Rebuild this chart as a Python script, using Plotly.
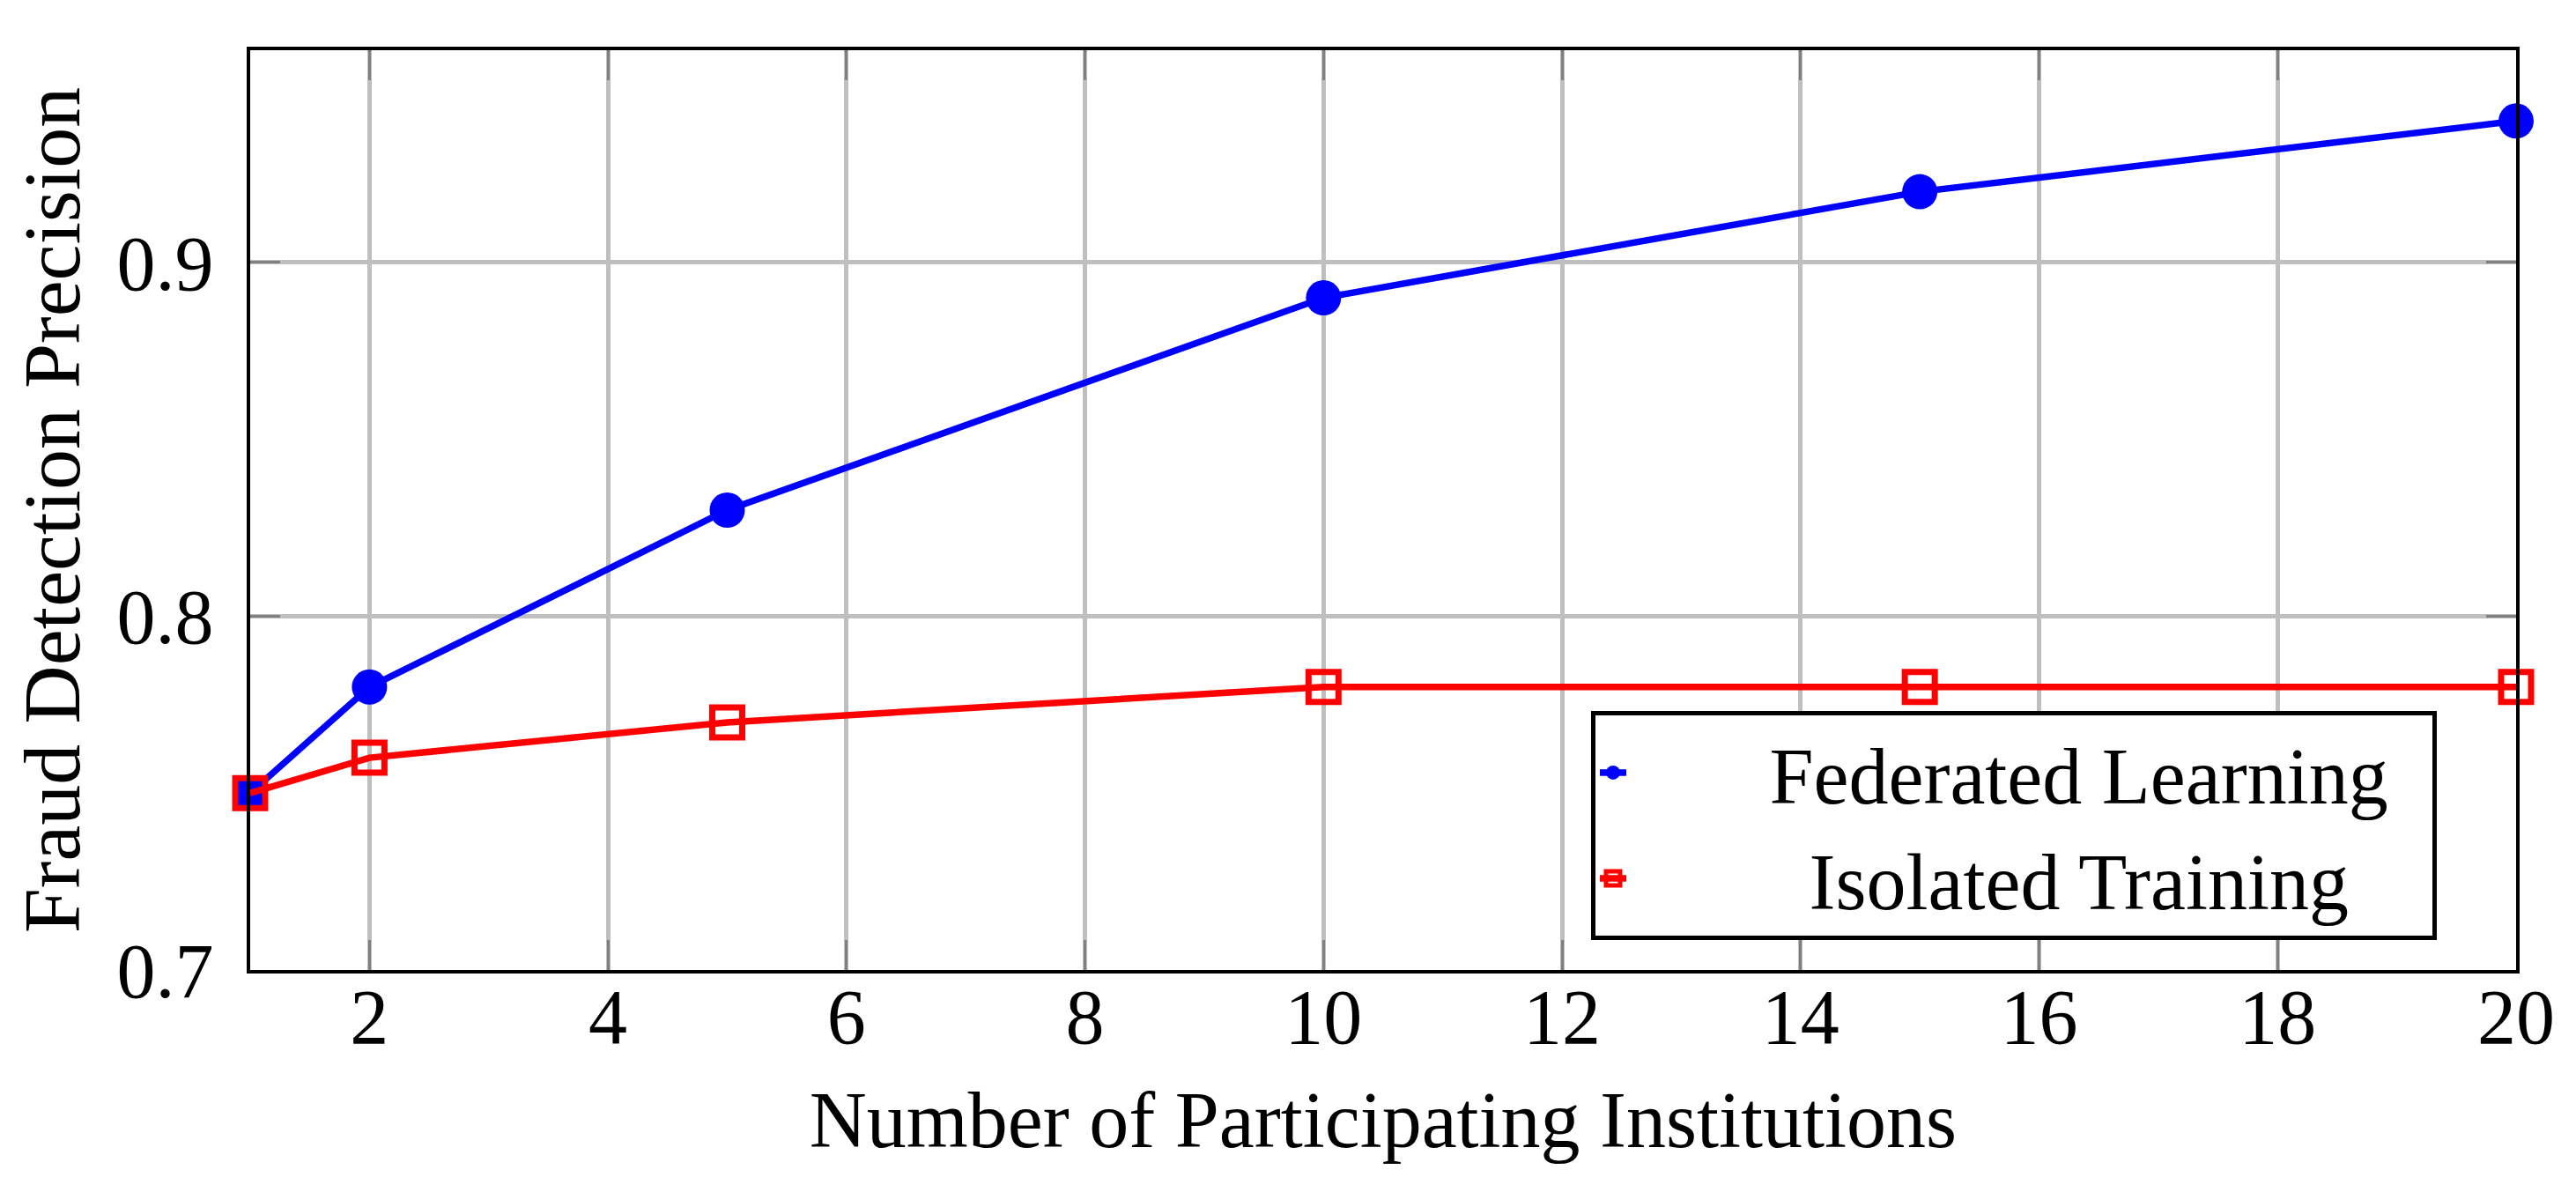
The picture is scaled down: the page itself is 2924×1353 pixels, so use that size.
import plotly.graph_objects as go

# data
institutions = [1, 2, 5, 10, 15, 20]
federated_precision = [0.75, 0.78, 0.83, 0.89, 0.92, 0.94]
isolated_precision = [0.75, 0.76, 0.77, 0.78, 0.78, 0.78]

x_ticks = [2, 4, 6, 8, 10, 12, 14, 16, 18, 20]
y_ticks = [0.7, 0.8, 0.9]

FONT = "Liberation Serif"
GRID = "#bfbfbf"
TICK = "#808080"
NB = "\u00a0"  # non-breaking space, pads legend entries like the centred LaTeX legend

fig = go.Figure()

fig.add_trace(go.Scatter(
    x=institutions,
    y=federated_precision,
    mode="lines+markers",
    name=NB * 7 + "Federated Learning" + NB * 2,
    line=dict(color="#0000ff", width=7.5),
    marker=dict(symbol="circle", size=40, color="#0000ff"),
    cliponaxis=False,
))
fig.add_trace(go.Scatter(
    x=institutions,
    y=isolated_precision,
    mode="lines+markers",
    name=NB * 9 + "Isolated Training",
    line=dict(color="#ff0000", width=7.5),
    marker=dict(symbol="square-open", size=34, color="#ff0000", line=dict(width=7)),
    cliponaxis=False,
))

axis_common = dict(
    showline=True,
    linecolor="black",
    linewidth=4,
    mirror="ticks",
    ticks="inside",
    ticklen=34,
    tickwidth=3,
    tickcolor=TICK,
    showgrid=True,
    gridcolor=GRID,
    gridwidth=4.5,
    zeroline=False,
    tickfont=dict(family=FONT, size=88, color="black"),
)

fig.update_xaxes(
    range=[1, 20],
    tickvals=x_ticks,
    title=dict(text="Number of Participating Institutions",
               font=dict(family=FONT, size=90, color="black"), standoff=38),
    ticklabelstandoff=-27,
    **axis_common,
)
fig.update_yaxes(
    range=[0.7, 0.96],
    tickvals=y_ticks,
    ticktext=["0.7", "0.8", "0.9"],
    title=dict(text="Fraud Detection Precision",
               font=dict(family=FONT, size=92, color="black"), standoff=48),
    ticklabelstandoff=20,
    **axis_common,
)

fig.update_layout(
    width=2924,
    height=1353,
    margin=dict(l=273, r=76, t=49, b=260),
    paper_bgcolor="white",
    plot_bgcolor="white",
    font=dict(family=FONT, size=90, color="black"),
    legend=dict(
        x=0.965,
        y=0.0326,
        xanchor="right",
        yanchor="bottom",
        bgcolor="white",
        bordercolor="black",
        borderwidth=5,
        font=dict(family=FONT, size=90, color="black"),
    ),
)

fig.write_html("out.html")
